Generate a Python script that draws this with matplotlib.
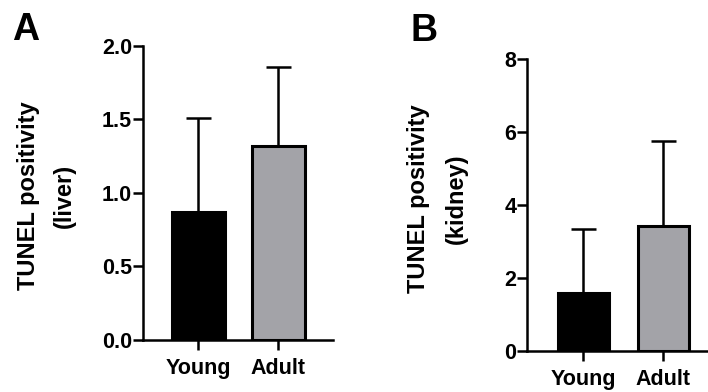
import matplotlib.pyplot as plt
import numpy as np

# data
groups = ['Young', 'Adult']
liver_mean = [0.87, 1.32]
liver_err = [0.64, 0.54]
kidney_mean = [1.58, 3.42]
kidney_err = [1.76, 2.34]
bar_colors = ['#000000', '#a3a3a8']

plt.rcParams['font.family'] = ['Liberation Sans', 'DejaVu Sans']
plt.rcParams['font.weight'] = 'bold'

fig = plt.figure(figsize=(7.08, 3.92), dpi=100)

def panel(ax, means, errs, ylim, yticks, yfmt, width, xlim):
    x = np.arange(len(groups))
    ax.bar(x, means, width=width, color=bar_colors, edgecolor='black',
           linewidth=2.2, zorder=2)
    ax.errorbar(x, means, yerr=[np.zeros(len(errs)), errs], fmt='none',
                ecolor='black', elinewidth=1.8, capsize=9, capthick=1.8, zorder=1)
    ax.set_ylim(ylim)
    ax.set_xlim(xlim)
    ax.set_yticks(yticks)
    ax.set_yticklabels([yfmt.format(v) for v in yticks])
    ax.set_xticks(x)
    ax.set_xticklabels(groups)
    for s in ['top', 'right']:
        ax.spines[s].set_visible(False)
    for s in ['left', 'bottom']:
        ax.spines[s].set_linewidth(1.8)
    ax.tick_params(axis='y', length=7, width=1.8, pad=1, labelsize=15.5)
    ax.tick_params(axis='x', length=7, width=1.8, pad=6, labelsize=15.5)
    for lab in ax.get_xticklabels() + ax.get_yticklabels():
        lab.set_fontweight('bold')

# panel A: liver
axA = fig.add_axes([0.202, 0.1327, 0.268, 0.750])
panel(axA, liver_mean, liver_err, (0, 2.0), [0, 0.5, 1.0, 1.5, 2.0], '{:.1f}',
      0.66, (-0.694, 1.68))

# panel B: kidney
axB = fig.add_axes([0.745, 0.1054, 0.255, 0.7436])
panel(axB, kidney_mean, kidney_err, (0, 8), [0, 2, 4, 6, 8], '{:d}',
      0.645, (-0.70, 1.56))
axB.spines['bottom'].set_clip_on(False)

fig.text(28 / 708, 1 - 196 / 392, 'TUNEL positivity', rotation=90,
         ha='center', va='center', fontsize=17, fontweight='bold')
fig.text(64 / 708, 1 - 196 / 392, '(liver)', rotation=90,
         ha='center', va='center', fontsize=17, fontweight='bold')
fig.text(419 / 708, 1 - 199 / 392, 'TUNEL positivity', rotation=90,
         ha='center', va='center', fontsize=17, fontweight='bold')
fig.text(456 / 708, 1 - 199 / 392, '(kidney)', rotation=90,
         ha='center', va='center', fontsize=17, fontweight='bold')

fig.text(12 / 708, 1 - 40 / 392, 'A', fontsize=27, fontweight='bold')
fig.text(410 / 708, 1 - 41 / 392, 'B', fontsize=27, fontweight='bold')

fig.savefig('out.png', dpi=100)
